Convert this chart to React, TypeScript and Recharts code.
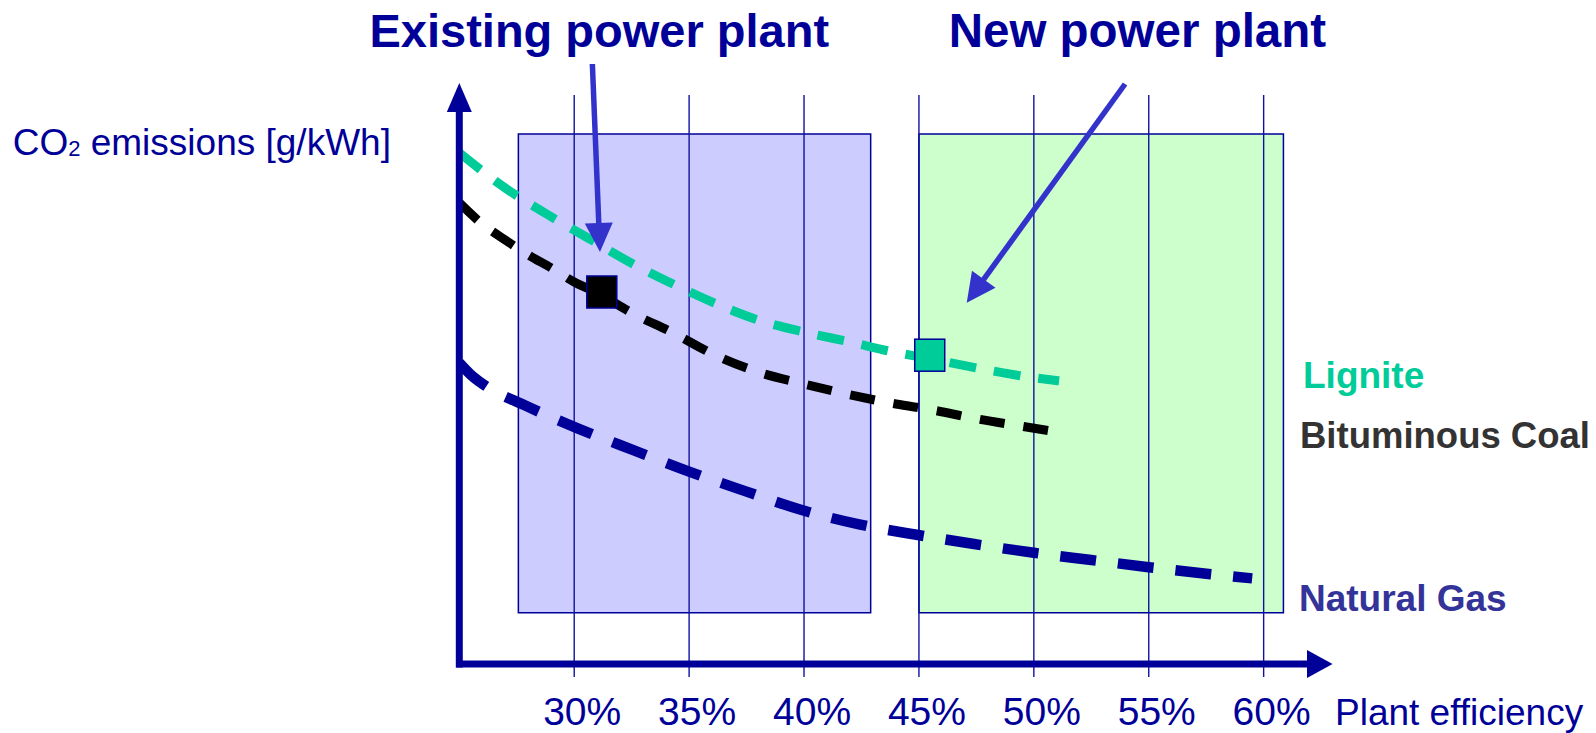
import {
  ComposedChart,
  XAxis,
  YAxis,
  Line,
  Scatter,
  ReferenceArea,
  ReferenceLine,
} from "recharts";

const FONT = "'Liberation Sans', Arial, Helvetica, sans-serif";
const NAVY = "#000099";

// plant efficiency [%] on x, CO2 emissions [g/kWh] on y
const efficiencyTicks = [30, 35, 40, 45, 50, 55, 60];

const ligniteEff = [25, 27, 28.8, 30.6, 32.4, 34.3, 36.2, 38, 40, 42, 43.9, 45.5, 47.7, 49.7, 51.1];
const ligniteCO2 = [1278, 1190, 1125, 1065, 1005, 950, 900, 860, 830, 805, 780, 763, 738, 718, 708];

const coalEff = [25, 26, 27, 28, 29, 30, 31, 32.5, 34.3, 36.1, 38, 40, 42, 44, 45.6, 47.5, 49.4, 51];
const coalCO2 = [1153, 1100, 1060, 1023, 990, 955, 928, 878, 828, 773, 730, 700, 673, 650, 635, 613, 595, 580];

const gasEff = [25, 25.6, 26.2, 27.8, 30.2, 32.6, 35, 37.5, 39.9, 42.4, 44.9, 47.4, 50, 52.5, 55, 57.6, 59.5];
const gasCO2 = [753, 718, 693, 648, 588, 534, 481, 431, 385, 349, 323, 300, 278, 260, 242, 225, 214];

// efficiency ranges of existing and new plants
const existingRange = [27.57, 42.9];
const newRange = [45, 60.86];
const rangeCO2 = [128, 1325];

const existingPlant = [{ x: 31.2, y: 930 }];
const newPlant = [{ x: 45.47, y: 772 }];

const zip = (xs: number[], ys: number[]) => xs.map((x, i) => ({ x, y: ys[i] }));
const ligniteData = zip(ligniteEff, ligniteCO2);
const coalData = zip(coalEff, coalCO2);
const gasData = zip(gasEff, gasCO2);

function arrowShape(color: string, width: number, headLen: number, headW: number) {
  return (p: any) => {
    const { x1, y1, x2, y2 } = p;
    const dx = x2 - x1;
    const dy = y2 - y1;
    const len = Math.hypot(dx, dy) || 1;
    const ux = dx / len;
    const uy = dy / len;
    const bx = x2 - ux * headLen;
    const by = y2 - uy * headLen;
    const nx = (-uy * headW) / 2;
    const ny = (ux * headW) / 2;
    return (
      <g>
        <line x1={x1} y1={y1} x2={bx + ux} y2={by + uy} stroke={color} strokeWidth={width} />
        <polygon points={`${x2},${y2} ${bx + nx},${by + ny} ${bx - nx},${by - ny}`} fill={color} />
      </g>
    );
  };
}

function squareShape(fill: string) {
  return (p: any) => (
    <rect x={p.cx - 15} y={p.cy - 16} width={30} height={32} fill={fill} stroke={NAVY} strokeWidth={1.5} />
  );
}

// tick text baseline sits 61px under the axis line
const EffTick = (p: any) => (
  <text x={p.x + 8} y={664 + 61} textAnchor="middle" fill={NAVY} fontSize={39} fontFamily={FONT}>
    {p.payload.value}%
  </text>
);

export default function App() {
  return (
    <div style={{ position: "absolute", left: 0, top: 0, width: 1596, height: 733, background: "#fff" }}>
      <ComposedChart
        width={1596}
        height={733}
        margin={{ top: 82, right: 263.4, left: 459.3, bottom: 0 }}
      >
        <XAxis
          type="number"
          dataKey="x"
          domain={[25, 63]}
          ticks={efficiencyTicks}
          allowDataOverflow
          axisLine={false}
          tickLine={false}
          height={69}
          interval={0}
          tick={EffTick}
        />
        <YAxis type="number" dataKey="y" domain={[0, 1455]} hide width={0} />

        <ReferenceArea
          x1={existingRange[0]}
          x2={existingRange[1]}
          y1={rangeCO2[0]}
          y2={rangeCO2[1]}
          fill="#CCCCFF"
          fillOpacity={1}
          stroke={NAVY}
          strokeWidth={1.5}
        />
        <ReferenceArea
          x1={newRange[0]}
          x2={newRange[1]}
          y1={rangeCO2[0]}
          y2={rangeCO2[1]}
          fill="#CCFFCC"
          fillOpacity={1}
          stroke={NAVY}
          strokeWidth={1.5}
        />

        {efficiencyTicks.map((t) => (
          <ReferenceLine
            key={t}
            segment={[
              { x: t, y: -32.5 },
              { x: t, y: 1422.5 },
            ]}
            ifOverflow="visible"
            stroke="#1111a0"
            strokeWidth={1.4}
          />
        ))}

        <Line
          data={gasData}
          dataKey="y"
          type="monotone"
          stroke={NAVY}
          strokeWidth={10.5}
          strokeDasharray="36 22"
          dot={false}
          activeDot={false}
          isAnimationActive={false}
        />
        <Line
          data={coalData}
          dataKey="y"
          type="monotone"
          stroke="#000000"
          strokeWidth={9}
          strokeDasharray="25 19"
          dot={false}
          activeDot={false}
          isAnimationActive={false}
        />
        <Line
          data={ligniteData}
          dataKey="y"
          type="monotone"
          stroke="#00CC99"
          strokeWidth={9}
          strokeDasharray="27 18"
          dot={false}
          activeDot={false}
          isAnimationActive={false}
        />

        {/* axes with arrow heads */}
        <ReferenceLine
          segment={[
            { x: 25, y: -9 },
            { x: 25, y: 1452.5 },
          ]}
          ifOverflow="visible"
          shape={arrowShape(NAVY, 7, 29, 25)}
        />
        <ReferenceLine
          segment={[
            { x: 24.86, y: 0 },
            { x: 63, y: 0 },
          ]}
          ifOverflow="visible"
          shape={arrowShape(NAVY, 7, 25.6, 28)}
        />

        <Scatter data={existingPlant} dataKey="y" shape={squareShape("#000000")} isAnimationActive={false} />
        <Scatter data={newPlant} dataKey="y" shape={squareShape("#00CC99")} isAnimationActive={false} />

        {/* annotation arrows */}
        <ReferenceLine
          segment={[
            { x: 30.79, y: 1500 },
            { x: 31.12, y: 1030 },
          ]}
          ifOverflow="visible"
          shape={arrowShape("#3333CC", 5.5, 29, 28)}
        />
        <ReferenceLine
          segment={[
            { x: 53.97, y: 1450 },
            { x: 47.08, y: 903 },
          ]}
          ifOverflow="visible"
          shape={arrowShape("#3333CC", 5.5, 29, 29)}
        />
      </ComposedChart>

      <svg
        width={1596}
        height={733}
        style={{ position: "absolute", left: 0, top: 0, pointerEvents: "none" }}
        fontFamily={FONT}
      >
        <text x={369.5} y={46.8} fontSize={47} fontWeight="bold" fill={NAVY}>
          Existing power plant
        </text>
        <text x={948.7} y={46.8} fontSize={47.5} fontWeight="bold" fill={NAVY}>
          New power plant
        </text>
        <text x={12.7} y={155} fontSize={37} fill={NAVY}>
          CO<tspan fontSize={22} dy={1}>2</tspan>
          <tspan dy={-1}> emissions [g/kWh]</tspan>
        </text>
        <text x={1303} y={388} fontSize={37} fontWeight="bold" fill="#00CC99">
          Lignite
        </text>
        <text x={1300} y={448} fontSize={36.5} fontWeight="bold" fill="#333333">
          Bituminous Coal
        </text>
        <text x={1299} y={610.7} fontSize={37} fontWeight="bold" fill="#333399">
          Natural Gas
        </text>
        <text x={1335} y={725} fontSize={37} fill={NAVY}>
          Plant efficiency
        </text>
      </svg>
    </div>
  );
}
